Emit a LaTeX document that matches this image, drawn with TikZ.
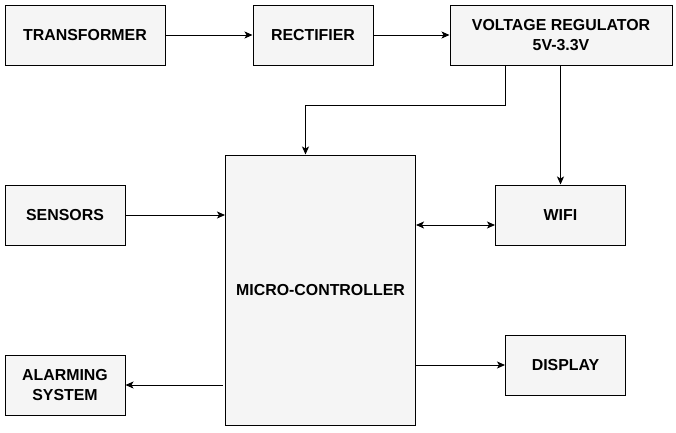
\documentclass[tikz,border=0pt]{standalone}
\usepackage{fontspec}
\setmainfont{Liberation Sans}
\usetikzlibrary{arrows.meta}
\definecolor{boxfill}{HTML}{F5F5F5}
\begin{document}
\begin{tikzpicture}[x=1pt,y=-1pt,
  box/.style={draw=black, fill=boxfill, line width=1pt, inner sep=0pt, align=center,
    font=\fontsize{15.9}{20}\selectfont\bfseries},
  arr/.style={line width=1pt, -{Stealth[length=8pt,width=7pt,inset=2pt]}},
  arrb/.style={line width=1pt, {Stealth[length=8pt,width=7pt,inset=2pt]}-{Stealth[length=8pt,width=7pt,inset=2pt]}}]
\useasboundingbox (0,0) rectangle (676,432);
\node[box, minimum width=160pt, minimum height=60pt] (T) at (85,35) {TRANSFORMER};
\node[box, minimum width=120pt, minimum height=60pt] (R) at (313,35) {RECTIFIER};
\node[box, minimum width=222pt, minimum height=60pt] (VR) at (561,35) {VOLTAGE REGULATOR\\5V-3.3V};
\node[box, minimum width=120pt, minimum height=60pt] (S) at (65,215) {SENSORS};
\node[box, minimum width=190pt, minimum height=270pt] (MC) at (320.5,290) {MICRO-CONTROLLER};
\node[box, minimum width=130pt, minimum height=60pt] (W) at (560.5,215) {WIFI};
\node[box, minimum width=120pt, minimum height=60pt] (A) at (65,385) {ALARMING\\SYSTEM};
\node[box, minimum width=120pt, minimum height=60pt] (D) at (565.5,365) {DISPLAY};
\draw[arr] (T.east) -- (R.west);
\draw[arr] (R.east) -- (VR.west);
\draw[arr] ([xshift=-56pt]VR.south) -- ++(0,40) -| ([xshift=-15pt]MC.north);
\draw[arr] (VR.south -| W.north) -- (W.north);
\draw[arrb] ([yshift=-10pt]W.west -| MC.east) -- ([yshift=-10pt]W.west);
\draw[arr] (S.east) -- (S.east -| MC.west);
\draw[arr] ([xshift=-2pt]A.east -| MC.west) -- (A.east);
\draw[arr] (D.west -| MC.east) -- (D.west);
\end{tikzpicture}
\end{document}
